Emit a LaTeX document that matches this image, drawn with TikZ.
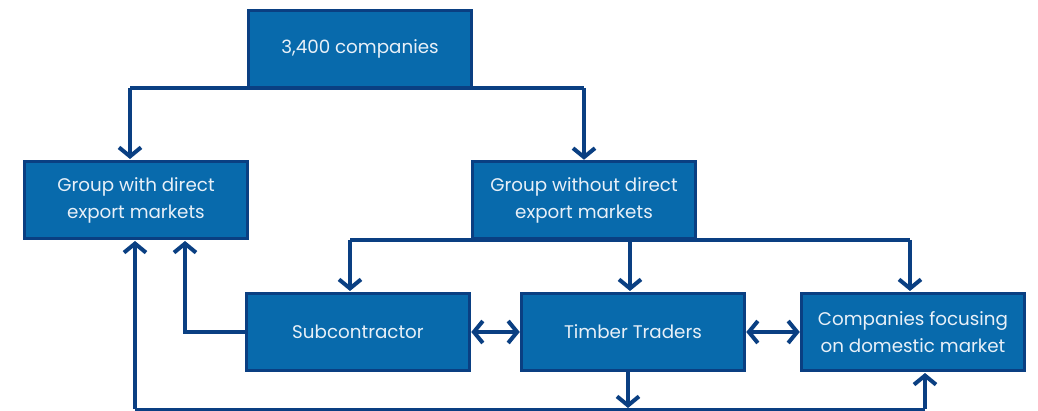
\documentclass[tikz,border=0pt]{standalone}
\usepackage{fontspec}
\setmainfont{Poppins}
\usetikzlibrary{arrows.meta,calc}
\definecolor{boxfill}{HTML}{086AAC}
\definecolor{edge}{HTML}{0A3F82}
\definecolor{txt}{HTML}{E8F0F8}
\tikzset{
  box/.style={draw=edge, line width=3.5pt, fill=boxfill, minimum width=223pt, minimum height=77pt,
    text=txt, align=center, font=\fontsize{18.3}{27}\selectfont, inner sep=0pt},
  tip/.tip={Straight Barb[length=9pt,width=22pt,line width=4pt]},
  conn/.style={draw=edge, line width=4pt, -tip},
  dconn/.style={draw=edge, line width=4pt, tip-tip},
  plain/.style={draw=edge, line width=4pt},
}
\begin{document}
\begin{tikzpicture}[x=1pt,y=-1pt]
\useasboundingbox (0,0) rectangle (1038,411);
\node[box] (top) at (360,49) {3,400 companies};
\node[box] (gw) at (136,200) {Group with direct\\export markets};
\node[box] (gwo) at (584,200) {Group without direct\\export markets};
\node[box] (sub) at (358,332) {Subcontractor};
\node[box] (tt) at (633,332) {Timber Traders};
\node[box] (cf) at (913,332) {Companies focusing\\on domestic market};
% top split
\coordinate (tl) at (130,88);
\coordinate (tr) at (584,88);
\draw[plain] (tl) -- (tr);
\draw[conn] (tl) -- (130,159);
\draw[conn] (tr) -- (gwo.north);
% second split
\coordinate (sl) at (350,240);
\coordinate (sr) at (910,240);
\draw[plain] (sl) -- (sr);
\draw[conn] (sl) -- (350,291);
\draw[conn] (630,240) -- (630,291);
\draw[conn] (sr) -- (910,291);
% subcontractor to group with
\coordinate (sc) at (185,332);
\draw[conn] (sub.west) -- (sc) -- (185,241);
% double arrows
\draw[dconn] (sub.east) -- (tt.west);
\draw[dconn] (tt.east) -- (cf.west);
% bottom line
\coordinate (bl) at (135,409);
\coordinate (br) at (925,409);
\draw[plain, line width=3pt] (bl) -- (br);
\draw[conn] (bl) -- (135,241);
\draw[conn] (br) -- (925,373);
\draw[conn] (628,372) -- (628,408);
\end{tikzpicture}
\end{document}
